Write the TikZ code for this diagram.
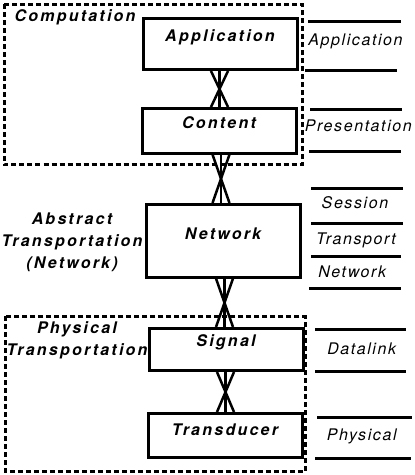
\documentclass[tikz,border=0pt]{standalone}
\usepackage{fontspec}
\usepackage{tikz}
\usetikzlibrary{calc,positioning}
\newfontfamily\heavyfont[LetterSpace=14]{TeX Gyre Heros}
\newfontfamily\lightfont[LetterSpace=10]{TeX Gyre Heros}
\tikzset{
  layer/.style={draw, fill=white, line width=3pt, minimum width=154pt, inner sep=0pt,
                font={\heavyfont\bfseries\itshape\fontsize{16pt}{18pt}\selectfont}},
  grp/.style={draw, line width=3pt, dash pattern=on 5pt off 3pt},
  side/.style={align=center, inner sep=0pt,
               font={\heavyfont\bfseries\itshape\fontsize{16pt}{22pt}\selectfont}},
  osi/.style={anchor=base, inner sep=0pt,
              font={\lightfont\itshape\fontsize{16pt}{18pt}\selectfont}},
  rule/.style={line width=3pt},
  lnk/.style={line width=2.5pt},
}
% crossed link between two stacked layers
\newcommand{\xlink}[2]{%
  \coordinate (m) at ($(#1.south)!0.5!(#2.north)$);
  \draw[lnk] (m |- #1.south) -- (m |- #2.north);
  \draw[lnk] ($(m |- #1.south)+(-8.5,0)$) -- ($(m |- #2.north)+(8.5,0)$);
  \draw[lnk] ($(m |- #1.south)+(8.5,0)$) -- ($(m |- #2.north)+(-8.5,0)$);
}

\begin{document}
\begin{tikzpicture}[x=1pt, y=-1pt]
\useasboundingbox (0,0) rectangle (415,475);

% groups
\draw[grp] (4,4) rectangle (302,164.5);
\draw[grp] (5.2,316.2) rectangle (305,471.5);

% layers
\node[layer, text height=23.7pt, text depth=27.8pt, anchor=base] (app)   at (220,41.7)  {Application};
\node[layer, text height=19.8pt, text depth=24.7pt, anchor=base] (cont)  at (219,128.3) {Content};
\node[layer, text height=35.2pt, text depth=37.3pt, anchor=base] (net)   at (223,239.7) {Network};
\node[layer, text height=18.2pt, text depth=23.8pt, anchor=base] (sig)   at (226,346.7) {Signal};
\node[layer, text height=21.5pt, text depth=22pt,   anchor=base] (trans) at (225,435)   {Transducer};

\xlink{app}{cont}
\xlink{cont}{net}
\xlink{net}{sig}
\xlink{sig}{trans}

% group labels
\node[side, anchor=base] (comp) at (75,21.7) {Computation};
\node[side] (abst) at (72,242.3) {Abstract\\Transportation\\(Network)};
\node[side] (phys) at (77,340.5) {Physical\\Transportation};

% OSI column
\foreach \y/\xa/\xb in {21.7/308/401, 70.7/305/397, 109/310/402, 151/309/401,
                        188/311/403, 223/311/403, 256/311/401, 288/309/401,
                        329/315/406, 371/315/406, 417/317/412, 458/315/411}
  \draw[rule] (\xa,\y) -- (\xb,\y);
\node[osi] (oapp)  at (355.5,45)   {Application};
\node[osi] (opres) at (358.3,131.7) {Presentation};
\node[osi] (oses)  at (355,208.3)  {Session};
\node[osi] (otra)  at (356,244)    {Transport};
\node[osi] (onet)  at (352.3,277.3) {Network};
\node[osi] (odl)   at (361.7,354)  {Datalink};
\node[osi] (ophy)  at (361.7,440)  {Physical};
\end{tikzpicture}
\end{document}
